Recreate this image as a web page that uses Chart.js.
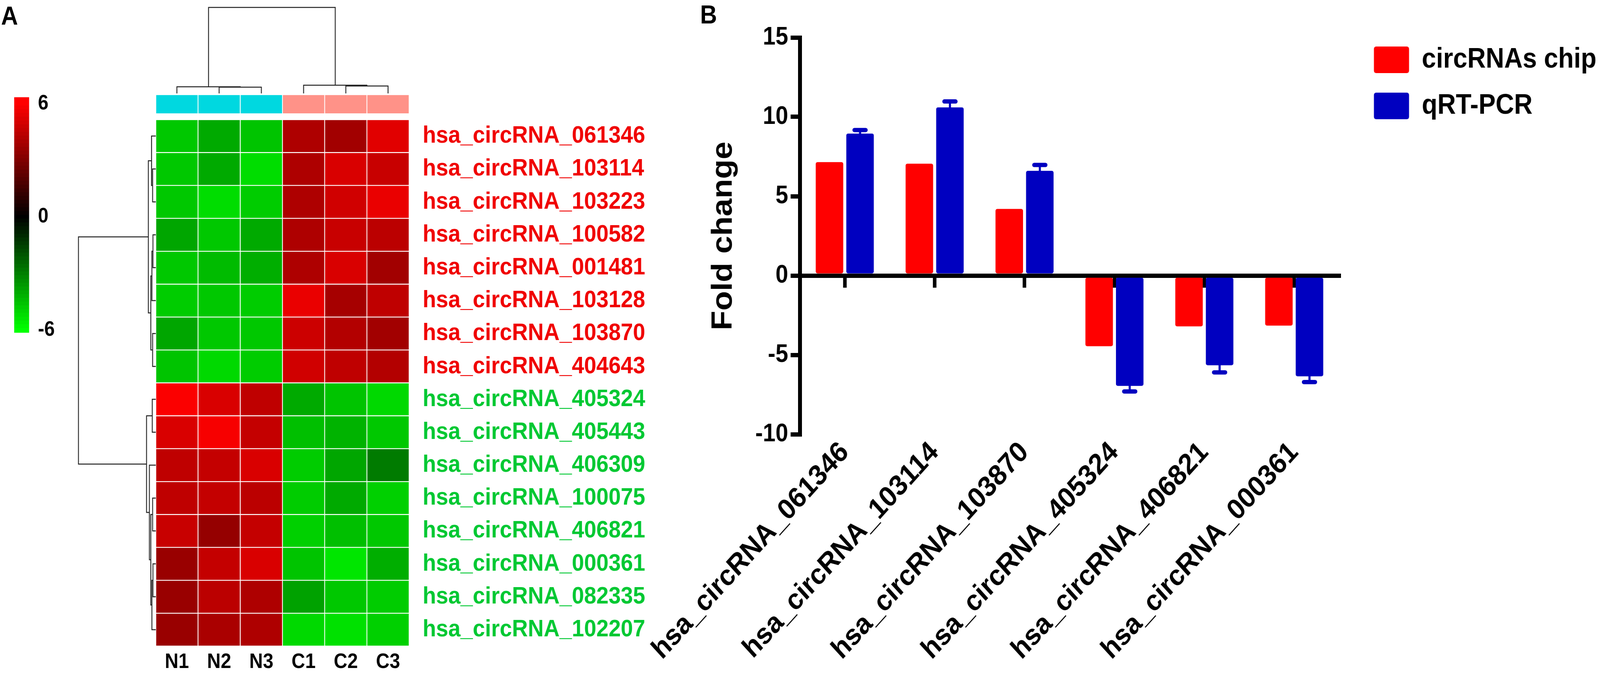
<!DOCTYPE html>
<html>
<head>
<meta charset="utf-8">
<script src="https://cdn.jsdelivr.net/npm/chart.js@4.4.1/dist/chart.umd.min.js"></script>
<style>
  html, body { margin: 0; background: #fff; overflow: hidden; font-family: 'Liberation Sans', Arial, sans-serif; }
  #page { position: absolute; left: 0; top: 0; width: 4509px; height: 1732px; transform-origin: 0 0; background: #fff; }
  canvas { position: absolute; }
  .panel { position: absolute; font-weight: bold; font-size: 66px; line-height: 1; color: #000; }
</style>
</head>
<body>
<div id="page">
<canvas id="scaleBar" width="300" height="700" style="left:40px;top:200px"></canvas>
<canvas id="colTree" width="714" height="228" style="left:439px;top:15px"></canvas>
<canvas id="rowTree" width="226" height="1347" style="left:215px;top:306px"></canvas>
<canvas id="heatmap" width="1411" height="1490" style="left:439px;top:242px"></canvas>
<canvas id="foldChart" width="2809" height="1732" style="left:1700px;top:0px"></canvas>
<div class="panel" style="left:3px;top:7px">A</div>
<div class="panel" style="left:1973px;top:4px">B</div>
</div>
<script>
// the figure is laid out at 4509x1732; squeeze it into whatever window we get
const page = document.getElementById('page');
page.style.transform = 'scale(' + (window.innerWidth / 4509) + ',' + (window.innerHeight / 1732) + ')';

// ---- panel A data ----
const samples = ['N1', 'N2', 'N3', 'C1', 'C2', 'C3'];
const circNames = [
  'hsa_circRNA_061346', 'hsa_circRNA_103114', 'hsa_circRNA_103223', 'hsa_circRNA_100582',
  'hsa_circRNA_001481', 'hsa_circRNA_103128', 'hsa_circRNA_103870', 'hsa_circRNA_404643',
  'hsa_circRNA_405324', 'hsa_circRNA_405443', 'hsa_circRNA_406309', 'hsa_circRNA_100075',
  'hsa_circRNA_406821', 'hsa_circRNA_000361', 'hsa_circRNA_082335', 'hsa_circRNA_102207'
];
const upCount = 8; // first 8 rows are up in C (red names)
// rows = circNames, cols = samples
const heatValues = [
  [-4.7, -4.0, -4.6, 4.1, 3.8, 5.3],
  [-4.7, -4.0, -5.2, 4.1, 5.1, 4.7],
  [-4.7, -5.2, -4.8, 4.1, 4.9, 5.5],
  [-3.9, -4.7, -4.0, 4.1, 4.7, 4.4],
  [-4.7, -4.4, -4.1, 4.1, 5.1, 3.8],
  [-4.8, -4.7, -4.8, 5.5, 3.9, 4.5],
  [-3.9, -4.7, -4.7, 4.8, 4.2, 3.8],
  [-4.6, -5.1, -4.8, 4.9, 4.5, 4.2],
  [5.9, 5.1, 4.5, -4.0, -4.6, -5.1],
  [5.1, 5.8, 4.6, -4.5, -4.2, -4.7],
  [4.5, 4.6, 5.1, -4.8, -3.9, -2.9],
  [4.5, 4.6, 4.4, -4.8, -4.0, -4.9],
  [4.7, 3.5, 4.6, -4.9, -4.5, -4.7],
  [3.6, 4.6, 5.1, -4.6, -5.4, -4.1],
  [3.6, 4.4, 4.1, -3.8, -4.7, -4.8],
  [3.6, 4.0, 4.1, -5.1, -5.3, -4.9]
];
// linkage like scipy: [a, b, height], new ids start after the leaves
const colLinks = [[1, 2, 16], [0, 6, 17], [4, 5, 19], [3, 8, 21], [7, 9, 220]];
const rowLinks = [
  [1, 2, 9], [0, 16, 12], [3, 4, 8], [18, 5, 11], [6, 7, 9], [19, 20, 14], [17, 21, 21],
  [8, 9, 10], [11, 12, 9], [13, 14, 8], [25, 15, 11], [24, 26, 14], [10, 27, 18], [23, 28, 26],
  [22, 29, 218]
];
const scaleTicks = [-6, 0, 6];

// ---- panel B data ----
const genes = ['hsa_circRNA_061346', 'hsa_circRNA_103114', 'hsa_circRNA_103870',
  'hsa_circRNA_405324', 'hsa_circRNA_406821', 'hsa_circRNA_000361'];
const chipFold = [7.15, 7.05, 4.2, -4.45, -3.2, -3.15];
const pcrFold = [8.95, 10.6, 6.6, -6.95, -5.65, -6.35];
const pcrErr = [0.22, 0.37, 0.37, 0.35, 0.45, 0.36];
const foldTicks = [-10, -5, 0, 5, 10, 15];

Chart.defaults.font.family = "'Liberation Sans', Arial, sans-serif";
Chart.defaults.font.weight = 'bold';
Chart.defaults.color = '#000';
Chart.defaults.animation = false;
Chart.defaults.responsive = false;
Chart.defaults.devicePixelRatio = 1;
Chart.defaults.plugins.tooltip.enabled = false;

const upColor = '#f00000';
const downColor = '#00c832';
const lineColor = '#222';

function heatColor(v) {
  const c = Math.round(255 * Math.min(Math.abs(v), 6) / 6);
  return v >= 0 ? 'rgb(' + c + ',0,0)' : 'rgb(0,' + c + ',0)';
}

function treeSegments(links, nLeaves) {
  const pos = [], hgt = [];
  for (let i = 0; i < nLeaves; i++) { pos.push(i); hgt.push(0); }
  const segs = [];
  links.forEach(([a, b, h]) => {
    segs.push([[pos[a], hgt[a]], [pos[a], h], [pos[b], h], [pos[b], hgt[b]]]);
    pos.push((pos[a] + pos[b]) / 2);
    hgt.push(h);
  });
  return segs;
}

const hidden = { display: false };
const treeLine = { showLine: true, pointRadius: 0, borderColor: lineColor, borderWidth: 2.5, clip: false, fill: false };

// colour key
const keySteps = [];
for (let s = -6.2; s <= 6.41; s += 0.2) keySteps.push(s);
new Chart(document.getElementById('scaleBar'), {
  type: 'bar',
  data: {
    labels: [''],
    datasets: keySteps.map(s => ({
      data: [[s - 0.101, s + 0.101]],
      backgroundColor: heatColor(s),
      grouped: false, barPercentage: 1, categoryPercentage: 1
    }))
  },
  options: {
    layout: { padding: { top: 38, bottom: 38 } },
    plugins: { legend: hidden },
    scales: {
      x: hidden,
      y: {
        position: 'right', min: -6.14, max: 6.34,
        grid: hidden, border: hidden,
        afterBuildTicks: s => { s.ticks = scaleTicks.map(v => ({ value: v })); },
        ticks: { font: { size: 53, weight: 'bold' }, padding: 17, callback: v => String(v) },
        afterFit: s => { s.width = 258; }
      }
    }
  }
});

// column dendrogram
new Chart(document.getElementById('colTree'), {
  type: 'scatter',
  data: {
    datasets: treeSegments(colLinks, samples.length).map(seg => ({
      data: seg.map(p => ({ x: p[0], y: p[1] })), ...treeLine
    }))
  },
  options: {
    plugins: { legend: hidden },
    scales: {
      x: { display: false, min: -0.5, max: samples.length - 0.5 },
      y: { display: false, min: -4, max: 224 }
    }
  }
});

// row dendrogram
new Chart(document.getElementById('rowTree'), {
  type: 'scatter',
  data: {
    datasets: treeSegments(rowLinks, circNames.length).map(seg => ({
      data: seg.map(p => ({ x: p[1], y: p[0] + 0.5 })), ...treeLine
    }))
  },
  options: {
    plugins: { legend: hidden },
    scales: {
      x: { display: false, min: -2, max: 224, reverse: true },
      y: { display: false, min: 0, max: circNames.length, reverse: true }
    }
  }
});

// heatmap cells as floating bars
const cellStyle = {
  grouped: false, barPercentage: 1, categoryPercentage: 1,
  borderWidth: 1.5, borderColor: 'rgba(255,255,255,0.08)', borderSkipped: false
};
const groupTop = -0.761, groupBottom = -0.178;
const heatSets = circNames.map((name, r) => ({
  label: name,
  data: samples.map(() => [r, r + 1]),
  backgroundColor: heatValues[r].map(heatColor),
  ...cellStyle
}));
heatSets.push({
  label: 'group',
  data: samples.map(() => [groupTop, groupBottom]),
  backgroundColor: samples.map(s => s[0] === 'N' ? '#00d8e0' : '#ff9288'),
  ...cellStyle
});
new Chart(document.getElementById('heatmap'), {
  type: 'bar',
  data: { labels: samples, datasets: heatSets },
  options: {
    plugins: { legend: hidden },
    scales: {
      x: {
        grid: hidden, border: hidden,
        ticks: { font: { size: 53, weight: 'bold' }, padding: 2 },
        afterFit: s => { s.height = 79; }
      },
      y: {
        position: 'right', reverse: true, min: groupTop, max: circNames.length,
        grid: hidden, border: hidden,
        afterBuildTicks: s => { s.ticks = circNames.map((n, i) => ({ value: i + 0.5 })); },
        ticks: {
          autoSkip: false, padding: 30,
          font: { size: 62, weight: 'bold' },
          color: c => c.index < upCount ? upColor : downColor,
          callback: (v, i) => circNames[i]
        },
        // labels sit inside the rows, so no extra room above/below is needed
        afterFit: s => { s.width = 697; s.paddingTop = 0; s.paddingBottom = 0; }
      }
    }
  }
});

// ---- panel B ----
const errorBars = {
  id: 'errorBars',
  afterDatasetsDraw(chart) {
    const meta = chart.getDatasetMeta(1);
    const y = chart.scales.y;
    const ctx = chart.ctx;
    ctx.save();
    ctx.strokeStyle = '#0000c0';
    ctx.lineCap = 'round';
    meta.data.forEach((bar, i) => {
      const v = pcrFold[i];
      const base = y.getPixelForValue(v);
      const tip = y.getPixelForValue(v + Math.sign(v) * pcrErr[i]);
      ctx.lineWidth = 6;
      ctx.beginPath(); ctx.moveTo(bar.x, base); ctx.lineTo(bar.x, tip); ctx.stroke();
      ctx.lineWidth = 11;
      ctx.beginPath(); ctx.moveTo(bar.x - 16, tip); ctx.lineTo(bar.x + 16, tip); ctx.stroke();
    });
    ctx.restore();
  }
};

const barStyle = {
  xAxisID: 'x', yAxisID: 'y',
  barPercentage: 0.9, categoryPercentage: 0.68, borderRadius: 5, borderSkipped: false
};
new Chart(document.getElementById('foldChart'), {
  type: 'bar',
  data: {
    labels: genes,
    datasets: [
      { label: 'circRNAs chip', data: chipFold, backgroundColor: '#ff0000', ...barStyle },
      { label: 'qRT-PCR', data: pcrFold, backgroundColor: '#0000c0', ...barStyle }
    ]
  },
  plugins: [errorBars],
  options: {
    layout: { padding: { top: 71, left: 290 } },
    plugins: {
      legend: {
        position: 'right', align: 'start', maxWidth: 900,
        labels: {
          boxWidth: 99, boxHeight: 68, padding: 46, useBorderRadius: true, borderRadius: 6,
          font: { size: 72, weight: 'bold' }, color: '#000'
        }
      }
    },
    scales: {
      x: {
        grid: hidden, border: hidden,
        ticks: { autoSkip: false, minRotation: 45, maxRotation: 45, padding: -5, font: { size: 74, weight: 'bold' } },
        afterFit: s => { s.height = 621; }
      },
      y: {
        min: -10, max: 15,
        afterBuildTicks: s => { s.ticks = foldTicks.map(v => ({ value: v })); },
        grid: { display: true, drawOnChartArea: false, tickLength: 26, lineWidth: 11, color: '#000' },
        border: { display: true, color: '#000', width: 11 },
        ticks: { padding: 7, font: { size: 64, weight: 'bold' } },
        title: { display: true, text: 'Fold change', font: { size: 82, weight: 'bold' }, padding: { top: 0, bottom: 0 } },
        afterFit: s => { s.width = 264; }
      },
      // zero line with the category tick marks hanging under it
      zero: {
        axis: 'x', type: 'category', position: { y: 0 }, offset: true,
        grid: { display: true, drawOnChartArea: false, offset: false, tickLength: 25, lineWidth: 10, color: '#000' },
        border: { display: true, color: '#000', width: 11 },
        ticks: { display: false },
        afterFit: s => { s.height = 0; }
      },
      xTop: {
        axis: 'x', type: 'category', position: 'top', grid: hidden, border: hidden, ticks: { display: false },
        afterFit: s => { s.height = 25; }
      },
      yRight: {
        axis: 'y', type: 'linear', position: 'right', grid: hidden, border: hidden, ticks: { display: false },
        afterFit: s => { s.width = 52; }
      }
    }
  }
});
</script>
</body>
</html>
